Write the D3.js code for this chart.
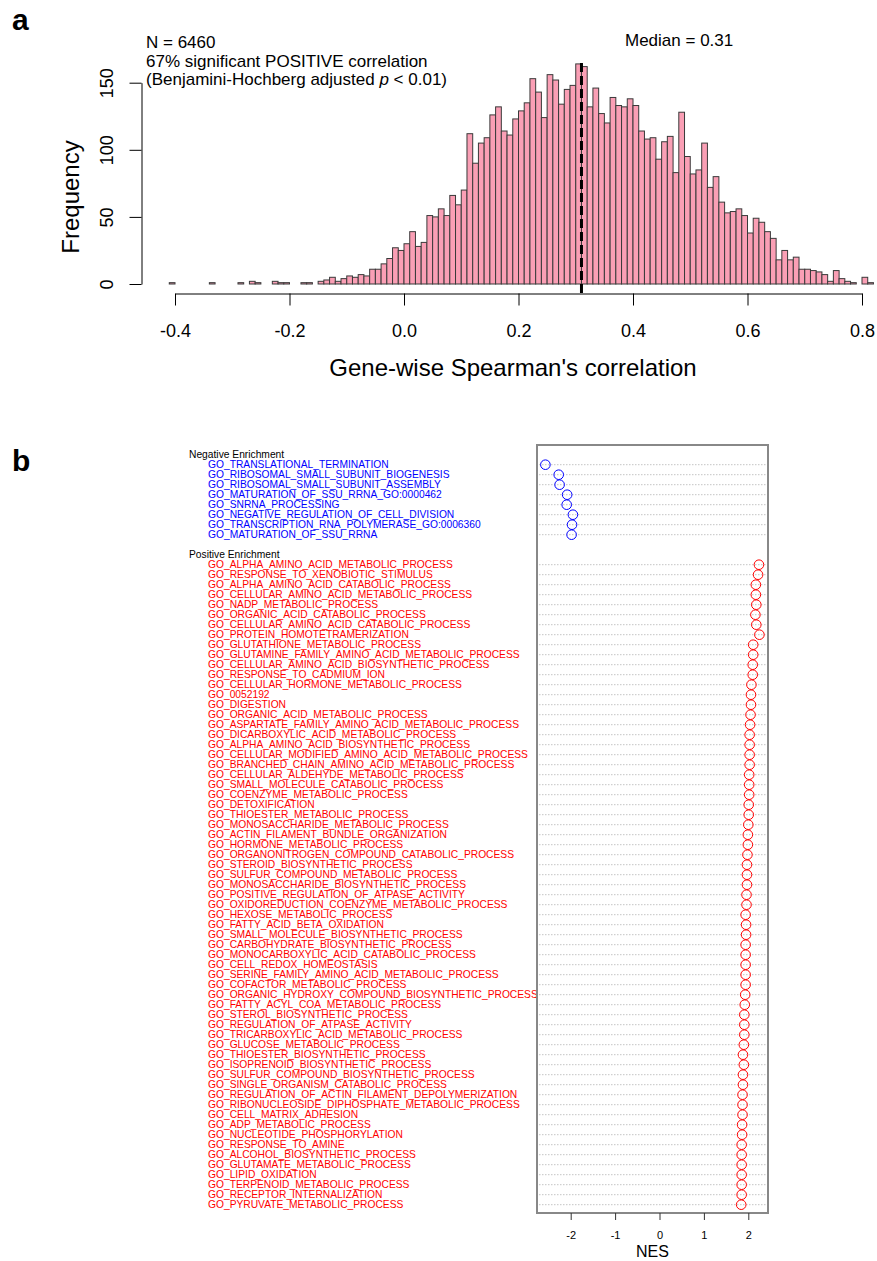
<meta charset="utf-8">
<script src="https://d3js.org/d3.v7.min.js"></script>

<svg id="vis"></svg>

<script>
  // histogram data: counts per 0.01-wide bin, first bin starts at -0.41
  var binStart = -0.41;
  var binWidth = 0.01;
  var counts = [
      1, 0, 0, 0, 0, 0, 0, 1, 0, 0,      // -0.41 .. -0.32
      0, 0, 1, 0, 2, 1, 0, 0, 2, 1,      // -0.31 .. -0.22
      1, 0, 0, 1, 1, 0, 2, 3, 5, 2,      // -0.21 .. -0.12
      4, 6, 5, 7, 6, 11, 11, 15, 19, 27, // -0.11 .. -0.02
      25,                                // -0.01
      30, 39, 28, 31, 51, 50, 56, 51, 66, 59,          // 0.00 .. 0.09
      70, 112, 90, 105, 109, 126, 132, 114, 111, 123,  // 0.10 .. 0.19
      129, 135, 153, 143, 124, 156, 152, 134, 145, 148,// 0.20 .. 0.29
      164, 162, 132, 146, 127, 120, 139, 133, 132, 138,// 0.30 .. 0.39
      133, 114, 108, 109, 93, 106, 110, 83, 128, 95,   // 0.40 .. 0.49
      82, 85, 105, 72, 80, 61, 53, 54, 56, 51,         // 0.50 .. 0.59
      38, 49, 46, 39, 34, 18, 25, 18, 20, 11,          // 0.60 .. 0.69
      11, 10, 9, 7, 2, 10, 4, 2, 1, 0,                 // 0.70 .. 0.79
      5, 1                                             // 0.80 .. 0.81
  ];
  var median = 0.31;
  var xTicks = [-0.4, -0.2, 0.0, 0.2, 0.4, 0.6, 0.8];
  var yTicks = [0, 50, 100, 150];

  // enrichment data
  var negTerms = [
      'GO_TRANSLATIONAL_TERMINATION',
      'GO_RIBOSOMAL_SMALL_SUBUNIT_BIOGENESIS',
      'GO_RIBOSOMAL_SMALL_SUBUNIT_ASSEMBLY',
      'GO_MATURATION_OF_SSU_RRNA_GO:0000462',
      'GO_SNRNA_PROCESSING',
      'GO_NEGATIVE_REGULATION_OF_CELL_DIVISION',
      'GO_TRANSCRIPTION_RNA_POLYMERASE_GO:0006360',
      'GO_MATURATION_OF_SSU_RRNA'];
  var negNES = [-2.57, -2.27, -2.25, -2.08, -2.09, -1.95, -1.97, -1.98];

  var posTerms = [
      'GO_ALPHA_AMINO_ACID_METABOLIC_PROCESS',
      'GO_RESPONSE_TO_XENOBIOTIC_STIMULUS',
      'GO_ALPHA_AMINO_ACID_CATABOLIC_PROCESS',
      'GO_CELLULAR_AMINO_ACID_METABOLIC_PROCESS',
      'GO_NADP_METABOLIC_PROCESS',
      'GO_ORGANIC_ACID_CATABOLIC_PROCESS',
      'GO_CELLULAR_AMINO_ACID_CATABOLIC_PROCESS',
      'GO_PROTEIN_HOMOTETRAMERIZATION',
      'GO_GLUTATHIONE_METABOLIC_PROCESS',
      'GO_GLUTAMINE_FAMILY_AMINO_ACID_METABOLIC_PROCESS',
      'GO_CELLULAR_AMINO_ACID_BIOSYNTHETIC_PROCESS',
      'GO_RESPONSE_TO_CADMIUM_ION',
      'GO_CELLULAR_HORMONE_METABOLIC_PROCESS',
      'GO_0052192',
      'GO_DIGESTION',
      'GO_ORGANIC_ACID_METABOLIC_PROCESS',
      'GO_ASPARTATE_FAMILY_AMINO_ACID_METABOLIC_PROCESS',
      'GO_DICARBOXYLIC_ACID_METABOLIC_PROCESS',
      'GO_ALPHA_AMINO_ACID_BIOSYNTHETIC_PROCESS',
      'GO_CELLULAR_MODIFIED_AMINO_ACID_METABOLIC_PROCESS',
      'GO_BRANCHED_CHAIN_AMINO_ACID_METABOLIC_PROCESS',
      'GO_CELLULAR_ALDEHYDE_METABOLIC_PROCESS',
      'GO_SMALL_MOLECULE_CATABOLIC_PROCESS',
      'GO_COENZYME_METABOLIC_PROCESS',
      'GO_DETOXIFICATION',
      'GO_THIOESTER_METABOLIC_PROCESS',
      'GO_MONOSACCHARIDE_METABOLIC_PROCESS',
      'GO_ACTIN_FILAMENT_BUNDLE_ORGANIZATION',
      'GO_HORMONE_METABOLIC_PROCESS',
      'GO_ORGANONITROGEN_COMPOUND_CATABOLIC_PROCESS',
      'GO_STEROID_BIOSYNTHETIC_PROCESS',
      'GO_SULFUR_COMPOUND_METABOLIC_PROCESS',
      'GO_MONOSACCHARIDE_BIOSYNTHETIC_PROCESS',
      'GO_POSITIVE_REGULATION_OF_ATPASE_ACTIVITY',
      'GO_OXIDOREDUCTION_COENZYME_METABOLIC_PROCESS',
      'GO_HEXOSE_METABOLIC_PROCESS',
      'GO_FATTY_ACID_BETA_OXIDATION',
      'GO_SMALL_MOLECULE_BIOSYNTHETIC_PROCESS',
      'GO_CARBOHYDRATE_BIOSYNTHETIC_PROCESS',
      'GO_MONOCARBOXYLIC_ACID_CATABOLIC_PROCESS',
      'GO_CELL_REDOX_HOMEOSTASIS',
      'GO_SERINE_FAMILY_AMINO_ACID_METABOLIC_PROCESS',
      'GO_COFACTOR_METABOLIC_PROCESS',
      'GO_ORGANIC_HYDROXY_COMPOUND_BIOSYNTHETIC_PROCESS',
      'GO_FATTY_ACYL_COA_METABOLIC_PROCESS',
      'GO_STEROL_BIOSYNTHETIC_PROCESS',
      'GO_REGULATION_OF_ATPASE_ACTIVITY',
      'GO_TRICARBOXYLIC_ACID_METABOLIC_PROCESS',
      'GO_GLUCOSE_METABOLIC_PROCESS',
      'GO_THIOESTER_BIOSYNTHETIC_PROCESS',
      'GO_ISOPRENOID_BIOSYNTHETIC_PROCESS',
      'GO_SULFUR_COMPOUND_BIOSYNTHETIC_PROCESS',
      'GO_SINGLE_ORGANISM_CATABOLIC_PROCESS',
      'GO_REGULATION_OF_ACTIN_FILAMENT_DEPOLYMERIZATION',
      'GO_RIBONUCLEOSIDE_DIPHOSPHATE_METABOLIC_PROCESS',
      'GO_CELL_MATRIX_ADHESION',
      'GO_ADP_METABOLIC_PROCESS',
      'GO_NUCLEOTIDE_PHOSPHORYLATION',
      'GO_RESPONSE_TO_AMINE',
      'GO_ALCOHOL_BIOSYNTHETIC_PROCESS',
      'GO_GLUTAMATE_METABOLIC_PROCESS',
      'GO_LIPID_OXIDATION',
      'GO_TERPENOID_METABOLIC_PROCESS',
      'GO_RECEPTOR_INTERNALIZATION',
      'GO_PYRUVATE_METABOLIC_PROCESS'];
  var posNES = [
      2.24, 2.22, 2.17, 2.17, 2.18, 2.16, 2.18, 2.25, 2.11, 2.11,
      2.10, 2.10, 2.07, 2.06, 2.06, 2.05, 2.04, 2.03, 2.03, 2.03,
      2.03, 2.02, 2.02, 2.02, 2.01, 2.01, 2.00, 1.99, 1.99, 1.98,
      1.97, 1.97, 1.97, 1.96, 1.96, 1.94, 1.95, 1.95, 1.94, 1.94,
      1.94, 1.94, 1.94, 1.93, 1.92, 1.91, 1.91, 1.91, 1.90, 1.88,
      1.90, 1.88, 1.88, 1.87, 1.87, 1.87, 1.86, 1.86, 1.85, 1.85,
      1.85, 1.85, 1.85, 1.85, 1.84];
  var nesTicks = [-2, -1, 0, 1, 2];

  var width = 877;
  var height = 1261;
  var font = 'Liberation Sans, Arial, sans-serif';

  var svg = d3.select('#vis')
      .attr('width', width)
      .attr('height', height)
      .style('position', 'absolute')
      .style('left', 0)
      .style('top', 0)
      .style('font-family', font);
  d3.select('body').style('margin', 0);

  svg.append('rect')
      .attr('width', width)
      .attr('height', height)
      .attr('fill', 'white');

  // ---------- panel a: histogram ----------
  var x = d3.scaleLinear()
      .domain([-0.4, 0.8])
      .range([175, 862]);

  var y = d3.scaleLinear()
      .domain([0, 150])
      .range([284, 82.7]);

  var bins = counts.map(function(c, i) {
      var lo = binStart + i * binWidth;
      return {lo: lo, hi: lo + binWidth, count: c};
  });

  svg.append('g').selectAll('rect')
      .data(bins.filter(function(d) { return d.count > 0; }))
      .enter().append('rect')
      .attr('x', function(d) { return x(d.lo); })
      .attr('width', function(d) { return x(d.hi) - x(d.lo); })
      .attr('y', function(d) { return y(d.count); })
      .attr('height', function(d) { return y(0) - y(d.count); })
      .attr('fill', '#fa9fb5')
      .attr('stroke', '#3a3a3a')
      .attr('stroke-width', 1);

  // median line
  svg.append('line')
      .attr('x1', x(median))
      .attr('x2', x(median))
      .attr('y1', 293)
      .attr('y2', 61)
      .attr('stroke', 'black')
      .attr('stroke-width', 3)
      .attr('stroke-dasharray', '9,4');

  // x axis
  var xAxis = svg.append('g')
      .attr('transform', 'translate(0,293.5)')
      .call(d3.axisBottom(x).tickValues(xTicks).tickSize(12).tickSizeOuter(0)
          .tickFormat(function(d) { return d.toFixed(1); }));
  xAxis.selectAll('text')
      .attr('y', 43)
      .attr('dy', 0)
      .style('font-size', '18px')
      .style('font-family', font)
      .attr('fill', 'black');

  // y axis
  var yAxis = svg.append('g')
      .attr('transform', 'translate(141.5,0)')
      .call(d3.axisLeft(y).tickValues(yTicks).tickSize(12).tickSizeOuter(0));
  yAxis.selectAll('text')
      .attr('transform', 'rotate(-90)')
      .attr('x', 0)
      .attr('y', -29)
      .attr('dy', 0)
      .attr('text-anchor', 'middle')
      .style('font-size', '18px')
      .style('font-family', font)
      .attr('fill', 'black');

  svg.selectAll('.domain, .tick line').attr('stroke', 'black');

  // titles
  svg.append('text')
      .attr('transform', 'translate(79,197) rotate(-90)')
      .attr('text-anchor', 'middle')
      .style('font-size', '24px')
      .text('Frequency');

  svg.append('text')
      .attr('x', 513)
      .attr('y', 376)
      .attr('text-anchor', 'middle')
      .style('font-size', '24px')
      .text("Gene-wise Spearman's correlation");

  svg.append('text')
      .attr('x', 146).attr('y', 48)
      .style('font-size', '17px')
      .text('N = 6460');
  svg.append('text')
      .attr('x', 146).attr('y', 66.5)
      .style('font-size', '17px')
      .text('67% significant POSITIVE correlation');
  var t3 = svg.append('text')
      .attr('x', 146).attr('y', 85)
      .style('font-size', '17px');
  t3.append('tspan').text('(Benjamini-Hochberg adjusted ');
  t3.append('tspan').style('font-style', 'italic').text('p');
  t3.append('tspan').text(' < 0.01)');

  svg.append('text')
      .attr('x', 625).attr('y', 46)
      .style('font-size', '17px')
      .text('Median = ' + median);

  // panel letters
  svg.append('text')
      .attr('x', 12).attr('y', 30)
      .style('font-size', '30px')
      .style('font-weight', 'bold')
      .text('a');
  svg.append('text')
      .attr('x', 12).attr('y', 471)
      .style('font-size', '30px')
      .style('font-weight', 'bold')
      .text('b');

  // ---------- panel b: dot chart ----------
  var rows = [];
  rows.push({type: 'group', label: 'Negative Enrichment'});
  negTerms.forEach(function(t, i) { rows.push({type: 'item', label: t, nes: negNES[i], color: 'blue'}); });
  rows.push({type: 'gap'});
  rows.push({type: 'group', label: 'Positive Enrichment'});
  posTerms.forEach(function(t, i) { rows.push({type: 'item', label: t, nes: posNES[i], color: 'red'}); });
  rows.forEach(function(d, i) { d.row = i; });
  var items = rows.filter(function(d) { return d.type == 'item'; });

  var xN = d3.scaleLinear()
      .domain([-2, 2])
      .range([570.7, 748.3]);

  var yR = d3.scaleLinear()
      .domain([0, rows.length - 1])
      .range([454.7, 454.7 + 10 * (rows.length - 1)]);

  var boxL = 537, boxR = 768, boxT = 445, boxB = 1213;

  // dotted guide lines
  svg.append('g').selectAll('line')
      .data(items)
      .enter().append('line')
      .attr('x1', boxL + 2)
      .attr('x2', boxR - 1)
      .attr('y1', function(d) { return yR(d.row); })
      .attr('y2', function(d) { return yR(d.row); })
      .attr('stroke', '#c4c4c4')
      .attr('stroke-width', 1)
      .attr('stroke-dasharray', '1.5,1.5');

  // circles
  svg.append('g').selectAll('circle')
      .data(items)
      .enter().append('circle')
      .attr('cx', function(d) { return xN(d.nes); })
      .attr('cy', function(d) { return yR(d.row); })
      .attr('r', 4.8)
      .attr('fill', 'none')
      .attr('stroke', function(d) { return d.color; })
      .attr('stroke-width', 1);

  // labels
  svg.append('g').selectAll('text')
      .data(rows.filter(function(d) { return d.type != 'gap'; }))
      .enter().append('text')
      .attr('x', function(d) { return d.type == 'group' ? 189 : 208; })
      .attr('y', function(d) { return yR(d.row) + 3.7; })
      .attr('fill', function(d) { return d.type == 'group' ? 'black' : d.color; })
      .style('font-size', '10.25px')
      .text(function(d) { return d.label; });

  // box
  svg.append('rect')
      .attr('x', boxL)
      .attr('y', boxT)
      .attr('width', boxR - boxL)
      .attr('height', boxB - boxT)
      .attr('fill', 'none')
      .attr('stroke', '#888')
      .attr('stroke-width', 2);

  // NES axis
  var nAxis = svg.append('g')
      .attr('transform', 'translate(0,' + boxB + ')')
      .call(d3.axisBottom(xN).tickValues(nesTicks).tickSize(7).tickSizeOuter(0)
          .tickFormat(function(d) { return String(d); }));
  nAxis.select('.domain').remove();
  nAxis.selectAll('line').attr('stroke', '#333');
  nAxis.selectAll('text')
      .attr('y', 26)
      .attr('dy', 0)
      .style('font-size', '11px')
      .style('font-family', font)
      .attr('fill', 'black');

  svg.append('text')
      .attr('x', (boxL + boxR) / 2)
      .attr('y', 1257)
      .attr('text-anchor', 'middle')
      .style('font-size', '16px')
      .text('NES');
</script>
